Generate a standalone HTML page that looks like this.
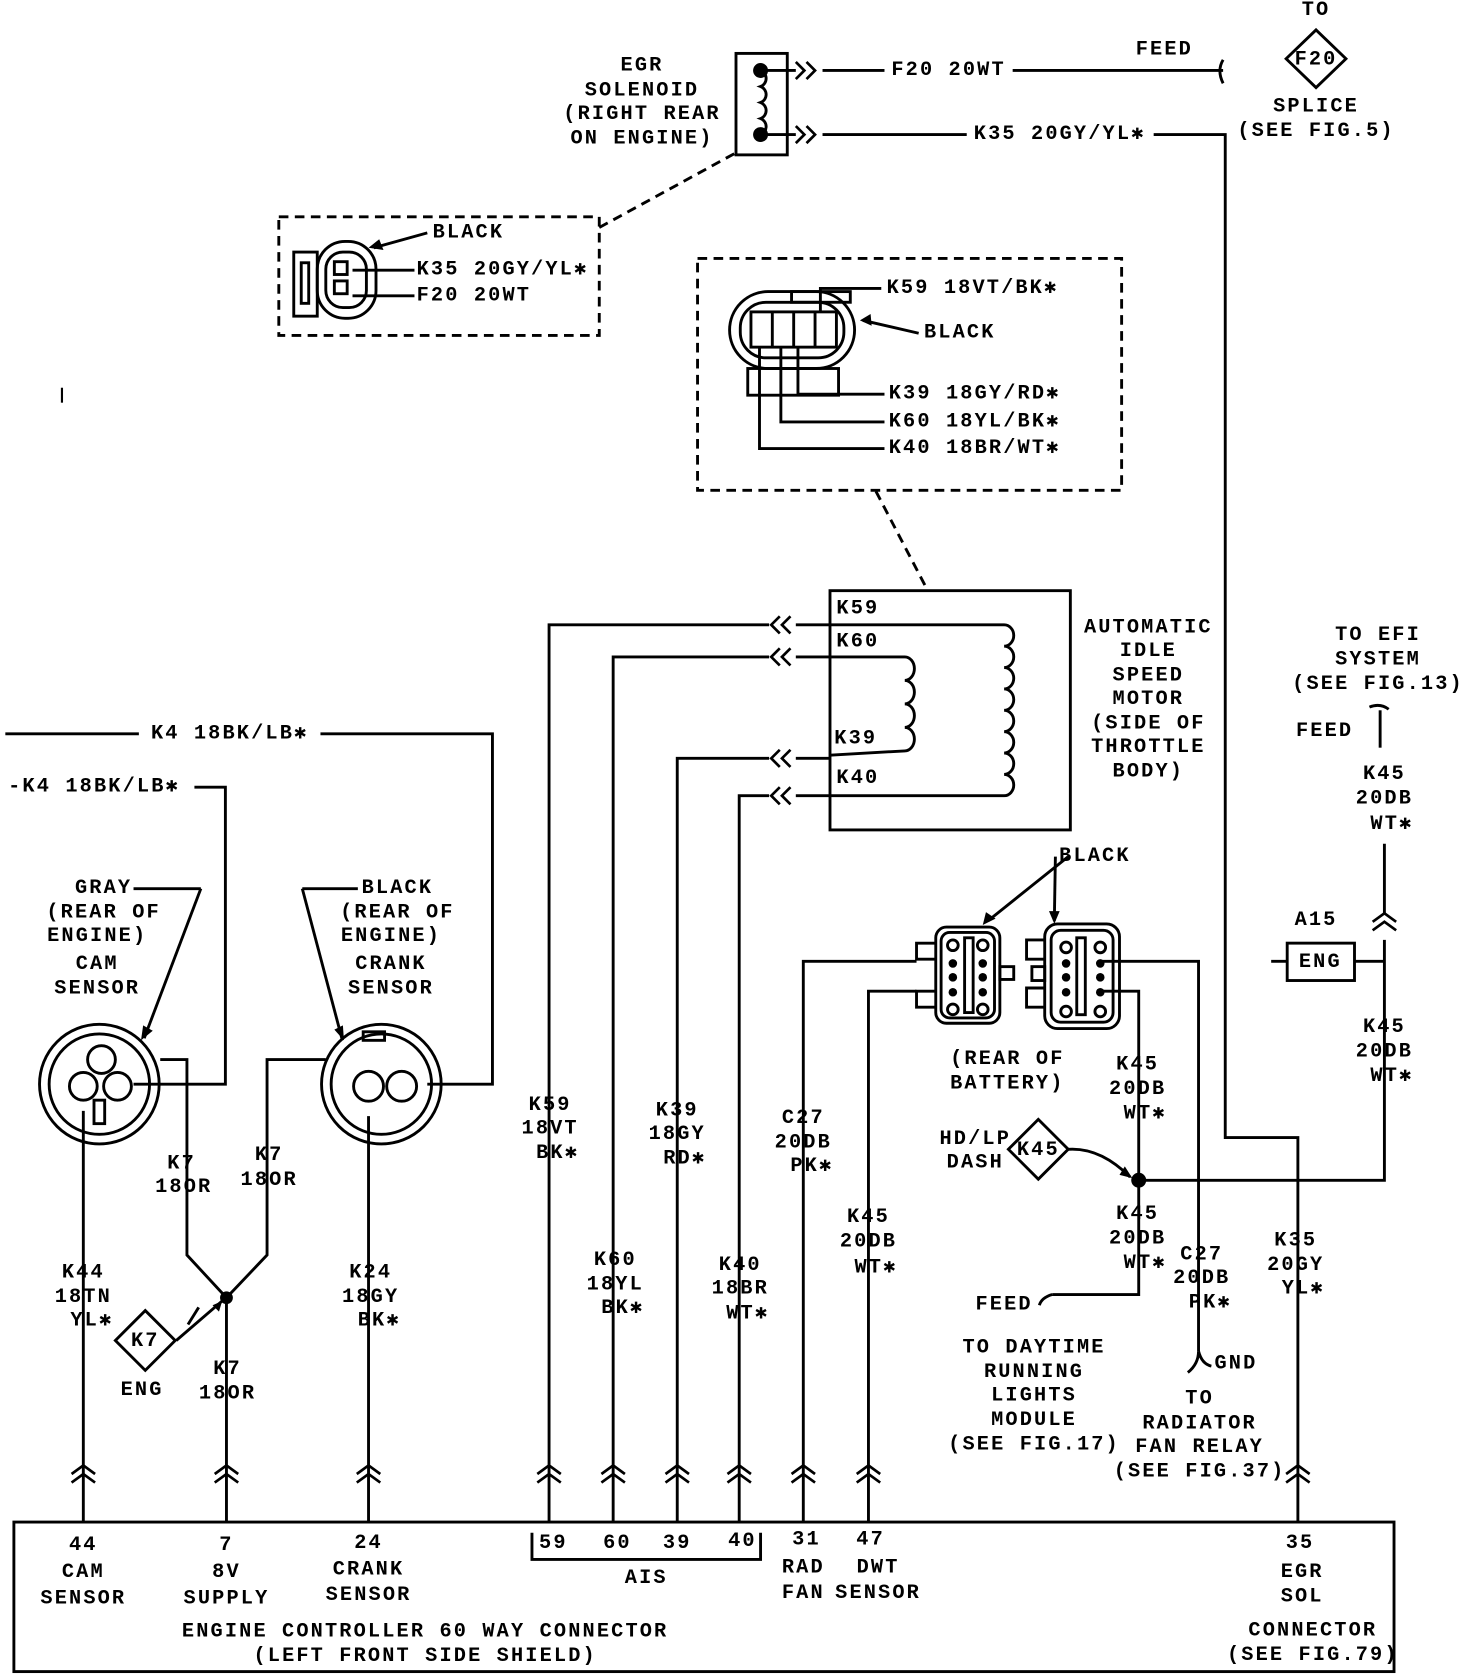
<!DOCTYPE html>
<html><head><meta charset="utf-8"><style>
html,body{margin:0;padding:0;background:#fff;}
svg{display:block;}
text{font-family:"Liberation Mono",monospace;font-weight:bold;font-size:19px;letter-spacing:2px;fill:#000;}
</style></head><body>
<svg width="1472" height="1678" viewBox="0 0 1378 1571" preserveAspectRatio="none" xmlns="http://www.w3.org/2000/svg">
<defs>
<g id="cl"><path d="M8,-8 L0,0 L8,8 M18,-8 L10,0 L18,8" fill="none" stroke="#000" stroke-width="2.5"/></g>
<g id="cr"><path d="M0,-8 L8,0 L0,8 M10,-8 L18,0 L10,8" fill="none" stroke="#000" stroke-width="2.5"/></g>
<g id="cu"><path d="M-11,8 L0,0 L11,8 M-11,16 L0,8 L11,16" fill="none" stroke="#000" stroke-width="2.5"/></g>
</defs>
<g fill="none" stroke="#000" stroke-width="2.7">
<rect x="689" y="50" width="48" height="95"/>
<path d="M712,66 a8,8 0 0 1 0,15 a8,8 0 0 1 0,15 a8,8 0 0 1 0,15 a8,8 0 0 1 0,15"/>
<line x1="712" y1="66" x2="745" y2="66"/><line x1="712" y1="126" x2="745" y2="126"/>
<line x1="770" y1="66" x2="828" y2="66"/><line x1="948" y1="66" x2="1145" y2="66"/>
<path d="M1145,56 q-6,10 0,22"/>
<line x1="770" y1="126" x2="905" y2="126"/><polyline points="1080,126 1147,126 1147,1065 1215,1065 1215,1425"/>
<path d="M1232,28 L1260,55 L1232,82 L1204,55 Z"/>
<rect x="261" y="203" width="300" height="111" stroke-dasharray="9,6"/>
<line x1="561" y1="213" x2="689" y2="143" stroke-dasharray="9,6"/>
<rect x="275" y="236" width="22" height="60"/>
<rect x="297" y="226" width="55" height="72" rx="26"/>
<rect x="305" y="236" width="38" height="52" rx="16"/>
<rect x="282" y="246" width="7" height="38"/>
<rect x="313" y="245" width="12" height="12"/><rect x="313" y="263" width="12" height="12"/>
<line x1="330" y1="253" x2="388" y2="253"/><line x1="330" y1="277" x2="388" y2="277"/>
<line x1="400" y1="218" x2="350" y2="232"/>
<rect x="653" y="242" width="397" height="217" stroke-dasharray="9,6"/>
<line x1="820" y1="460" x2="868" y2="552" stroke-dasharray="9,6"/>
<rect x="741" y="273" width="55" height="10"/>
<rect x="683" y="273" width="117" height="72" rx="36"/>
<rect x="693" y="283" width="97" height="52" rx="24"/>
<rect x="703" y="292" width="80" height="33"/>
<line x1="723" y1="292" x2="723" y2="325"/><line x1="743" y1="292" x2="743" y2="325"/><line x1="763" y1="292" x2="763" y2="325"/>
<rect x="700" y="345" width="85" height="25"/>
<polyline points="768,292 768,270 825,270"/>
<polyline points="747,325 747,369 828,369"/>
<polyline points="731,325 731,395 828,395"/>
<polyline points="711,325 711,420 828,420"/>
<line x1="860" y1="312" x2="808" y2="300"/>
<rect x="777" y="553" width="225" height="224"/>
<path d="M777,585 L940,585 a9,10 0 0 1 0,20 a9,10 0 0 1 0,20 a9,10 0 0 1 0,20 a9,10 0 0 1 0,20 a9,10 0 0 1 0,20 a9,10 0 0 1 0,20 a9,10 0 0 1 0,20 a9,10 0 0 1 0,20 L777,745"/>
<path d="M777,615 L847,615 a9,11 0 0 1 0,22 a9,11 0 0 1 0,22 a9,11 0 0 1 0,22 a9,11 0 0 1 0,22 L777,707"/>
<polyline points="720,585 514,585 514,1425"/>
<polyline points="720,615 574,615 574,1425"/>
<polyline points="720,710 634,710 634,1425"/>
<polyline points="720,745 692,745 692,1425"/>
<line x1="745" y1="585" x2="777" y2="585"/><line x1="745" y1="615" x2="777" y2="615"/>
<line x1="745" y1="710" x2="777" y2="710"/><line x1="745" y1="745" x2="777" y2="745"/>
<line x1="5" y1="687" x2="130" y2="687"/><polyline points="300,687 461,687 461,1015 400,1015"/>
<polyline points="182,737 211,737 211,1015 125,1015"/>
<circle cx="93" cy="1015" r="56"/><circle cx="93" cy="1015" r="47"/>
<circle cx="95" cy="992" r="13"/><circle cx="78" cy="1017" r="13"/><circle cx="110" cy="1017" r="13"/>
<rect x="88" y="1030" width="10" height="22"/>
<line x1="125" y1="832" x2="188" y2="832"/><line x1="188" y1="832" x2="135" y2="972"/>
<circle cx="357" cy="1015" r="56"/><circle cx="357" cy="1015" r="47"/>
<circle cx="345" cy="1017" r="14"/><circle cx="376" cy="1017" r="14"/>
<rect x="340" y="966" width="20" height="8"/>
<line x1="283" y1="832" x2="335" y2="832"/><line x1="283" y1="832" x2="320" y2="972"/>
<line x1="78" y1="1040" x2="78" y2="1425"/>
<polyline points="150,992 175,992 175,1175 212,1215 250,1175 250,992 305,992"/>
<line x1="212" y1="1215" x2="212" y2="1425"/>
<line x1="345" y1="1045" x2="345" y2="1425"/>
<path d="M136,1227 L164,1255 L136,1283 L108,1255 Z"/>
<line x1="165" y1="1255" x2="208" y2="1218"/><line x1="176" y1="1240" x2="186" y2="1224"/>
<rect x="876" y="868" width="60" height="90" rx="10"/><rect x="881" y="873" width="50" height="80" rx="8"/>
<rect x="903" y="878" width="8" height="70"/>
<polyline points="876,883 858,883 858,898 876,898"/><polyline points="876,928 858,928 858,943 876,943"/>
<rect x="936" y="905" width="13" height="12"/>
<rect x="978" y="865" width="70" height="98" rx="12"/><rect x="984" y="871" width="58" height="86" rx="9"/>
<rect x="1008" y="878" width="8" height="72"/>
<polyline points="978,880 961,880 961,898 978,898"/><polyline points="978,925 961,925 961,943 978,943"/>
<rect x="966" y="905" width="12" height="13"/>
<circle cx="892" cy="885" r="5"/><circle cx="920" cy="885" r="5"/><circle cx="892" cy="945" r="5"/><circle cx="920" cy="945" r="5"/>
<circle cx="998" cy="887" r="5"/><circle cx="1030" cy="887" r="5"/><circle cx="998" cy="947" r="5"/><circle cx="1030" cy="947" r="5"/>
<polyline points="858,900 752,900 752,1425"/>
<polyline points="858,928 813,928 813,1425"/>
<polyline points="1030,900 1122,900 1122,1265"/>
<polyline points="1030,928 1066,928 1066,1212 985,1212"/>
<path d="M985,1212 q-10,3 -12,10"/>
<path d="M1122,1265 q0,12 -10,20 M1122,1265 q3,12 12,14"/>
<line x1="1000" y1="802" x2="925" y2="862"/><line x1="988" y1="802" x2="987" y2="862"/>
<polyline points="1066,1105 1296,1105 1296,880"/>
<line x1="1296" y1="855" x2="1296" y2="790"/>
<line x1="1292" y1="665" x2="1292" y2="700"/><path d="M1282,662 q10,-4 18,2"/>
<rect x="1205" y="883" width="63" height="35"/>
<line x1="1190" y1="900" x2="1205" y2="900"/><line x1="1268" y1="900" x2="1296" y2="900"/>
<path d="M972,1048 L1000,1076 L972,1104 L944,1076 Z"/>
<path d="M1000,1076 q30,-2 58,26"/>
<rect x="13" y="1425" width="1292" height="140"/>
<polyline points="498,1435 498,1460 712,1460 712,1435"/>
</g>
<g fill="#000">
<circle cx="712" cy="66" r="7"/><circle cx="712" cy="126" r="7"/>
<circle cx="212" cy="1215" r="6"/><circle cx="1066" cy="1105" r="7"/>
<circle cx="892" cy="902" r="4"/><circle cx="920" cy="902" r="4"/><circle cx="892" cy="915" r="4"/><circle cx="920" cy="915" r="4"/><circle cx="892" cy="929" r="4"/><circle cx="920" cy="929" r="4"/>
<circle cx="998" cy="902" r="4"/><circle cx="1030" cy="902" r="4"/><circle cx="998" cy="915" r="4"/><circle cx="1030" cy="915" r="4"/><circle cx="998" cy="929" r="4"/><circle cx="1030" cy="929" r="4"/>
<path d="M345,232 l10,-8 l4,10 z"/><path d="M805,300 l10,-6 l1,11 z"/>
<path d="M132,974 l2,-14 l9,5 z"/><path d="M322,974 l-9,-10 l8,-4 z"/>
<path d="M920,866 l3,-12 l9,6 z"/><path d="M987,865 l-5,-12 l10,0 z"/>
<path d="M1060,1103 l-12,-3 l5,-8 z"/><path d="M208,1218 l-3,10 l-6,-6 z"/>
</g>
<use href="#cr" x="745" y="66"/><use href="#cr" x="745" y="126"/>
<use href="#cl" x="722" y="585"/><use href="#cl" x="722" y="615"/><use href="#cl" x="722" y="710"/><use href="#cl" x="722" y="745"/>
<use href="#cu" x="1296" y="855"/>
<use href="#cu" x="78" y="1372"/><use href="#cu" x="212" y="1372"/><use href="#cu" x="345" y="1372"/>
<use href="#cu" x="514" y="1372"/><use href="#cu" x="574" y="1372"/><use href="#cu" x="634" y="1372"/><use href="#cu" x="692" y="1372"/>
<use href="#cu" x="752" y="1372"/><use href="#cu" x="813" y="1372"/><use href="#cu" x="1215" y="1372"/>
<g text-anchor="middle" dominant-baseline="central">
<text x="601" y="62">EGR</text><text x="601" y="85">SOLENOID</text><text x="601" y="107">(RIGHT REAR</text><text x="601" y="130">ON ENGINE)</text>
<text x="1232" y="10">TO</text><text x="1232" y="56" font-size="15" letter-spacing="0">F20</text>
<text x="1232" y="100">SPLICE</text><text x="1232" y="123">(SEE FIG.5)</text>
<text x="1090" y="47">FEED</text>
<text x="888" y="66">F20 20WT</text><text x="992" y="126">K35 20GY/YL✱</text>
<text x="1075" y="588">AUTOMATIC</text><text x="1075" y="610">IDLE</text><text x="1075" y="633">SPEED</text><text x="1075" y="655">MOTOR</text><text x="1075" y="678">(SIDE OF</text><text x="1075" y="700">THROTTLE</text><text x="1075" y="723">BODY)</text>
<text x="1290" y="595">TO EFI</text><text x="1290" y="618">SYSTEM</text><text x="1290" y="641">(SEE FIG.13)</text>
<text x="1240" y="685">FEED</text>
<text x="1296" y="725">K45</text><text x="1296" y="748">20DB</text><text x="1303" y="772">WT✱</text>
<text x="1232" y="862">A15</text><text x="1236" y="901">ENG</text>
<text x="1296" y="962">K45</text><text x="1296" y="985">20DB</text><text x="1303" y="1008">WT✱</text>
<text x="215" y="687">K4 18BK/LB✱</text><text x="88" y="737">-K4 18BK/LB✱</text>
<text x="97" y="832">GRAY</text><text x="97" y="855">(REAR OF</text><text x="91" y="877">ENGINE)</text><text x="91" y="903">CAM</text><text x="91" y="926">SENSOR</text>
<text x="372" y="832">BLACK</text><text x="372" y="855">(REAR OF</text><text x="366" y="877">ENGINE)</text><text x="366" y="903">CRANK</text><text x="366" y="926">SENSOR</text>
<text x="78" y="1192">K44</text><text x="78" y="1215">18TN</text><text x="86" y="1237">YL✱</text>
<text x="170" y="1090">K7</text><text x="172" y="1112">18OR</text><text x="252" y="1082">K7</text><text x="252" y="1105">18OR</text>
<text x="136" y="1256" font-size="16" letter-spacing="0">K7</text><text x="133" y="1302">ENG</text>
<text x="213" y="1282">K7</text><text x="213" y="1305">18OR</text>
<text x="347" y="1192">K24</text><text x="347" y="1215">18GY</text><text x="355" y="1237">BK✱</text>
<text x="515" y="1035">K59</text><text x="515" y="1057">18VT</text><text x="522" y="1080">BK✱</text>
<text x="576" y="1180">K60</text><text x="576" y="1203">18YL</text><text x="583" y="1225">BK✱</text>
<text x="634" y="1040">K39</text><text x="634" y="1062">18GY</text><text x="641" y="1085">RD✱</text>
<text x="693" y="1185">K40</text><text x="693" y="1207">18BR</text><text x="700" y="1230">WT✱</text>
<text x="752" y="1047">C27</text><text x="752" y="1070">20DB</text><text x="760" y="1092">PK✱</text>
<text x="813" y="1140">K45</text><text x="813" y="1163">20DB</text><text x="820" y="1187">WT✱</text>
<text x="1025" y="802">BLACK</text><text x="943" y="992">(REAR OF</text><text x="943" y="1015">BATTERY)</text>
<text x="1065" y="997">K45</text><text x="1065" y="1020">20DB</text><text x="1072" y="1043">WT✱</text>
<text x="913" y="1067">HD/LP</text><text x="913" y="1089">DASH</text><text x="972" y="1077" font-size="15" letter-spacing="0">K45</text>
<text x="1065" y="1137">K45</text><text x="1065" y="1160">20DB</text><text x="1072" y="1183">WT✱</text>
<text x="940" y="1222">FEED</text>
<text x="968" y="1262">TO DAYTIME</text><text x="968" y="1285">RUNNING</text><text x="968" y="1307">LIGHTS</text><text x="968" y="1330">MODULE</text><text x="968" y="1353">(SEE FIG.17)</text>
<text x="1125" y="1175">C27</text><text x="1125" y="1197">20DB</text><text x="1133" y="1220">PK✱</text>
<text x="1157" y="1277">GND</text>
<text x="1123" y="1310">TO</text><text x="1123" y="1333">RADIATOR</text><text x="1123" y="1355">FAN RELAY</text><text x="1123" y="1378">(SEE FIG.37)</text>
<text x="1213" y="1162">K35</text><text x="1213" y="1185">20GY</text><text x="1220" y="1207">YL✱</text>
<text x="78" y="1447">44</text><text x="78" y="1472">CAM</text><text x="78" y="1497">SENSOR</text>
<text x="212" y="1447">7</text><text x="212" y="1472">8V</text><text x="212" y="1497">SUPPLY</text>
<text x="345" y="1445">24</text><text x="345" y="1470">CRANK</text><text x="345" y="1494">SENSOR</text>
<text x="518" y="1445">59</text><text x="578" y="1445">60</text><text x="634" y="1445">39</text><text x="695" y="1443">40</text>
<text x="605" y="1478">AIS</text>
<text x="755" y="1442">31</text><text x="752" y="1468">RAD</text><text x="752" y="1492">FAN</text>
<text x="815" y="1442">47</text><text x="822" y="1468">DWT</text><text x="822" y="1492">SENSOR</text>
<text x="1217" y="1445">35</text><text x="1219" y="1472">EGR</text><text x="1219" y="1495">SOL</text>
<text x="1229" y="1527">CONNECTOR</text><text x="1229" y="1550">(SEE FIG.79)</text>
<text x="398" y="1528">ENGINE CONTROLLER 60 WAY CONNECTOR</text><text x="398" y="1551">(LEFT FRONT SIDE SHIELD)</text>
</g>
<g dominant-baseline="central">
<text x="405" y="218">BLACK</text><text x="390" y="253">K35 20GY/YL✱</text><text x="390" y="277">F20 20WT</text>
<text x="830" y="270">K59 18VT/BK✱</text><text x="865" y="312">BLACK</text>
<text x="832" y="369">K39 18GY/RD✱</text><text x="832" y="395">K60 18YL/BK✱</text><text x="832" y="420">K40 18BR/WT✱</text>
<text x="783" y="570">K59</text><text x="783" y="601">K60</text><text x="781" y="692">K39</text><text x="783" y="729">K40</text>
</g>
<line x1="58" y1="363" x2="58" y2="377" stroke="#000" stroke-width="2"/>
</svg>
</body></html>
